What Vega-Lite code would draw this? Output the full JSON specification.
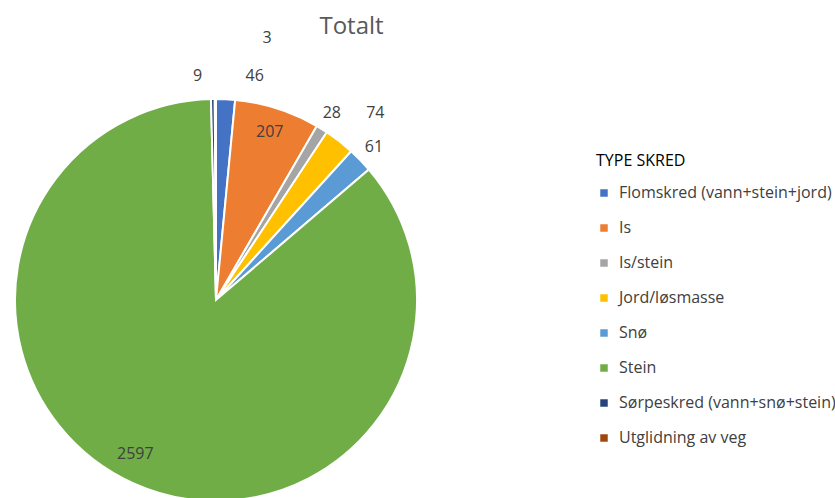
{
  "$schema": "https://vega.github.io/schema/vega-lite/v6.json",
  "width": 835,
  "height": 458,
  "autosize": {"type": "none"},
  "padding": {"left": 0, "top": 40, "right": 0, "bottom": 0},
  "background": "white",
  "title": {
    "text": "Totalt",
    "anchor": "middle",
    "frame": "group",
    "dx": -66,
    "offset": -28,
    "baseline": "alphabetic",
    "font": "Open Sans",
    "fontSize": 24,
    "fontWeight": "normal",
    "color": "#595959"
  },
  "data": {
    "values": [
      {"type": "Flomskred (vann+stein+jord)", "antall": 46},
      {"type": "Is", "antall": 207},
      {"type": "Is/stein", "antall": 28},
      {"type": "Jord/løsmasse", "antall": 74},
      {"type": "Snø", "antall": 61},
      {"type": "Stein", "antall": 2597},
      {"type": "Sørpeskred (vann+snø+stein)", "antall": 9},
      {"type": "Utglidning av veg", "antall": 3}
    ]
  },
  "encoding": {
    "theta": {"field": "antall", "type": "quantitative", "stack": true},
    "order": {"field": "type", "type": "ordinal", "sort": "ascending"}
  },
  "layer": [
    {
      "mark": {"type": "arc", "outerRadius": 201, "x": 216, "y": 260, "stroke": "white", "strokeWidth": 2},
      "encoding": {
        "color": {
          "field": "type",
          "type": "nominal",
          "scale": {
            "domain": ["Flomskred (vann+stein+jord)", "Is", "Is/stein", "Jord/løsmasse", "Snø", "Stein", "Sørpeskred (vann+snø+stein)", "Utglidning av veg"],
            "range": ["#4472C4", "#ED7D31", "#A5A5A5", "#FFC000", "#5B9BD5", "#70AD47", "#264478", "#9E480E"]
          },
          "legend": {
            "title": "TYPE SKRED",
            "orient": "none",
            "legendX": 596,
            "legendY": 113,
            "titleFont": "Open Sans",
            "titleFontSize": 16,
            "titleFontWeight": "normal",
            "titleColor": "#000000",
            "titlePadding": 16,
            "labelFont": "Open Sans",
            "labelFontSize": 16,
            "labelColor": "#404040",
            "labelOffset": 7,
            "symbolType": "square",
            "symbolSize": 56,
            "symbolStrokeWidth": 0,
            "rowPadding": 19,
            "labelLimit": 300
          }
        }
      }
    },
    {
      "mark": {"type": "text", "radius": 176, "x": 216, "y": 260, "font": "Open Sans", "fontSize": 16, "color": "#404040"},
      "encoding": {
        "text": {"condition": {"test": "datum.type === 'Is'", "field": "antall", "type": "quantitative"}, "value": ""}
      }
    },
    {
      "mark": {"type": "text", "radius": 176, "dx": -9, "dy": -7, "x": 216, "y": 260, "font": "Open Sans", "fontSize": 16, "color": "#404040"},
      "encoding": {
        "text": {"condition": {"test": "datum.type === 'Stein'", "field": "antall", "type": "quantitative"}, "value": ""}
      }
    },
    {
      "mark": {"type": "text", "radius": 220, "x": 216, "y": 260, "font": "Open Sans", "fontSize": 16, "color": "#404040"},
      "encoding": {
        "text": {"condition": {"test": "datum.type === 'Is/stein' || datum.type === 'Snø'", "field": "antall", "type": "quantitative"}, "value": ""}
      }
    },
    {
      "mark": {"type": "text", "radius": 245, "dx": 9, "dy": 6, "x": 216, "y": 260, "font": "Open Sans", "fontSize": 16, "color": "#404040"},
      "encoding": {
        "text": {"condition": {"test": "datum.type === 'Jord/løsmasse'", "field": "antall", "type": "quantitative"}, "value": ""}
      }
    },
    {
      "mark": {"type": "text", "radius": 224, "dx": -15, "x": 216, "y": 260, "font": "Open Sans", "fontSize": 16, "color": "#404040"},
      "encoding": {
        "text": {"condition": {"test": "datum.type === 'Sørpeskred (vann+snø+stein)'", "field": "antall", "type": "quantitative"}, "value": ""}
      }
    },
    {
      "mark": {"type": "text", "radius": 224, "dx": 28, "x": 216, "y": 260, "font": "Open Sans", "fontSize": 16, "color": "#404040"},
      "encoding": {
        "text": {"condition": {"test": "datum.type === 'Flomskred (vann+stein+jord)'", "field": "antall", "type": "quantitative"}, "value": ""}
      }
    },
    {
      "mark": {"type": "text", "radius": 262, "dx": 52, "x": 216, "y": 260, "font": "Open Sans", "fontSize": 16, "color": "#404040"},
      "encoding": {
        "text": {"condition": {"test": "datum.type === 'Utglidning av veg'", "field": "antall", "type": "quantitative"}, "value": ""}
      }
    }
  ],
  "config": {"view": {"stroke": null}}
}
